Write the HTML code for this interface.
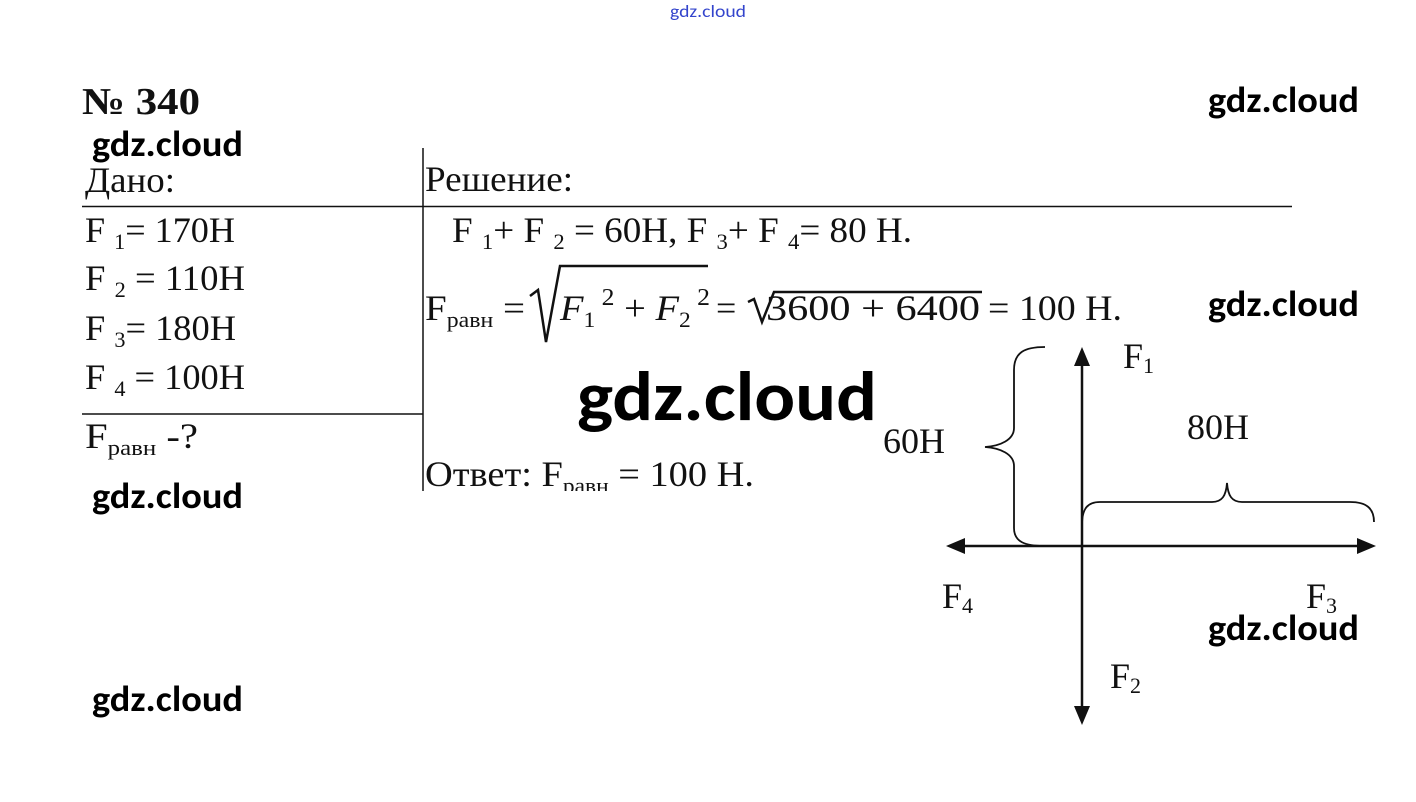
<!DOCTYPE html>
<html><head><meta charset="utf-8"><style>
html,body{margin:0;padding:0;background:#fff}
svg{display:block}
.s{font-family:"Liberation Serif",serif;fill:#111}
.w{font-family:"Carlito","DejaVu Sans","Liberation Sans",sans-serif;fill:#000;font-weight:bold}
</style></head><body>
<svg width="1416" height="802" viewBox="0 0 1416 802" xmlns="http://www.w3.org/2000/svg">
<rect width="1416" height="802" fill="#fff"/>
<text x="670" y="17" class="w" font-size="17" style="fill:#3344cc;font-weight:normal" textLength="76" lengthAdjust="spacingAndGlyphs">gdz.cloud</text>
<text x="82" y="114" class="s" font-size="38" font-weight="bold" textLength="118" lengthAdjust="spacingAndGlyphs">№ 340</text>
<g class="w" font-size="36">
<text x="1208" y="112" textLength="151" lengthAdjust="spacingAndGlyphs">gdz.cloud</text>
<text x="92" y="156" textLength="151" lengthAdjust="spacingAndGlyphs">gdz.cloud</text>
<text x="1208" y="316" textLength="151" lengthAdjust="spacingAndGlyphs">gdz.cloud</text>
<text x="92" y="508" textLength="151" lengthAdjust="spacingAndGlyphs">gdz.cloud</text>
<text x="1208" y="640" textLength="151" lengthAdjust="spacingAndGlyphs">gdz.cloud</text>
<text x="92" y="711" textLength="151" lengthAdjust="spacingAndGlyphs">gdz.cloud</text>
</g>
<text x="577" y="420" class="w" font-size="70" textLength="300" lengthAdjust="spacingAndGlyphs">gdz.cloud</text>
<g stroke="#111" stroke-width="1.5">
<line x1="423" y1="148" x2="423" y2="491"/>
<line x1="82" y1="206.5" x2="1292" y2="206.5"/>
<line x1="82" y1="414" x2="423" y2="414"/>
</g>
<g class="s" font-size="36">
<text x="85" y="192" textLength="90" lengthAdjust="spacingAndGlyphs">Дано:</text>
<text x="425" y="191" textLength="148" lengthAdjust="spacingAndGlyphs">Решение:</text>
<text x="85" y="242" textLength="150" lengthAdjust="spacingAndGlyphs">F <tspan font-size="22" dy="7">1</tspan><tspan dy="-7">= 170Н</tspan></text>
<text x="85" y="290" textLength="160" lengthAdjust="spacingAndGlyphs">F <tspan font-size="22" dy="7">2</tspan><tspan dy="-7"> = 110Н</tspan></text>
<text x="85" y="340" textLength="151" lengthAdjust="spacingAndGlyphs">F <tspan font-size="22" dy="7">3</tspan><tspan dy="-7">= 180Н</tspan></text>
<text x="85" y="389" textLength="160" lengthAdjust="spacingAndGlyphs">F <tspan font-size="22" dy="7">4</tspan><tspan dy="-7"> = 100Н</tspan></text>
<text x="85" y="448" textLength="113" lengthAdjust="spacingAndGlyphs">F<tspan font-size="22" dy="7">равн</tspan><tspan dy="-7">   -?</tspan></text>
<text x="452" y="242" textLength="460" lengthAdjust="spacingAndGlyphs">F <tspan font-size="22" dy="7">1</tspan><tspan dy="-7">+ F </tspan><tspan font-size="22" dy="7">2</tspan><tspan dy="-7"> = 60Н,  F </tspan><tspan font-size="22" dy="7">3</tspan><tspan dy="-7">+ F </tspan><tspan font-size="22" dy="7">4</tspan><tspan dy="-7">= 80 Н.</tspan></text>
<text x="425" y="320" textLength="100" lengthAdjust="spacingAndGlyphs">F<tspan font-size="22" dy="7">равн</tspan><tspan dy="-7"> = </tspan></text>
<text x="560" y="320" font-style="italic" textLength="150" lengthAdjust="spacingAndGlyphs">F<tspan font-size="22" dy="7" font-style="normal">1</tspan><tspan dy="-22" font-size="24" font-style="normal"> 2</tspan><tspan dy="15" font-style="normal"> + </tspan>F<tspan font-size="22" dy="7" font-style="normal">2</tspan><tspan dy="-22" font-size="24" font-style="normal"> 2</tspan></text>
<text x="716" y="320"> = </text>
<text x="766" y="320" font-family="Liberation Serif" textLength="214" lengthAdjust="spacingAndGlyphs">3600 + 6400</text>
<text x="988" y="320" textLength="134" lengthAdjust="spacingAndGlyphs">= 100 Н.</text>
<text x="425" y="486" textLength="329" lengthAdjust="spacingAndGlyphs">Ответ:  F<tspan font-size="22" dy="7">равн</tspan><tspan dy="-7"> = 100 Н.</tspan></text>
</g>
<rect x="424" y="491" width="400" height="20" fill="#fff"/>
<g fill="none" stroke="#111" stroke-width="2.5">
<path d="M530 296 L538 290 L546 342 L560 266 L708 266"/>
<path d="M748 302 L754 299 L762 322 L774 292 L982 292"/>
</g>
<g stroke="#111" stroke-width="2.5" fill="none">
<line x1="1082" y1="360" x2="1082" y2="712"/>
<line x1="960" y1="546" x2="1362" y2="546"/>
</g>
<g fill="#111">
<polygon points="1082,347 1074,366 1090,366"/>
<polygon points="1082,725 1074,706 1090,706"/>
<polygon points="946,546 965,538 965,554"/>
<polygon points="1376,546 1357,538 1357,554"/>
</g>
<g stroke="#111" stroke-width="1.8" fill="none">
<path d="M1045 347 C1025 347 1014 352 1014 370 L1014 428 C1014 440 1000 446 985 447 C1000 448 1014 454 1014 466 L1014 528 C1014 542 1025 546 1045 546"/>
<path d="M1082 525 C1082 508 1088 502 1100 502 L1212 502 C1222 502 1226 496 1227 483 C1228 496 1232 502 1242 502 L1350 502 C1366 502 1374 508 1374 522"/>
</g>
<g class="s" font-size="36">
<text x="883" y="453">60Н</text>
<text x="1187" y="439">80Н</text>
<text x="1123" y="368">F<tspan font-size="22" dy="5">1</tspan></text>
<text x="942" y="608">F<tspan font-size="22" dy="5">4</tspan></text>
<text x="1306" y="608">F<tspan font-size="22" dy="5">3</tspan></text>
<text x="1110" y="688">F<tspan font-size="22" dy="5">2</tspan></text>
</g>
</svg>
</body></html>
